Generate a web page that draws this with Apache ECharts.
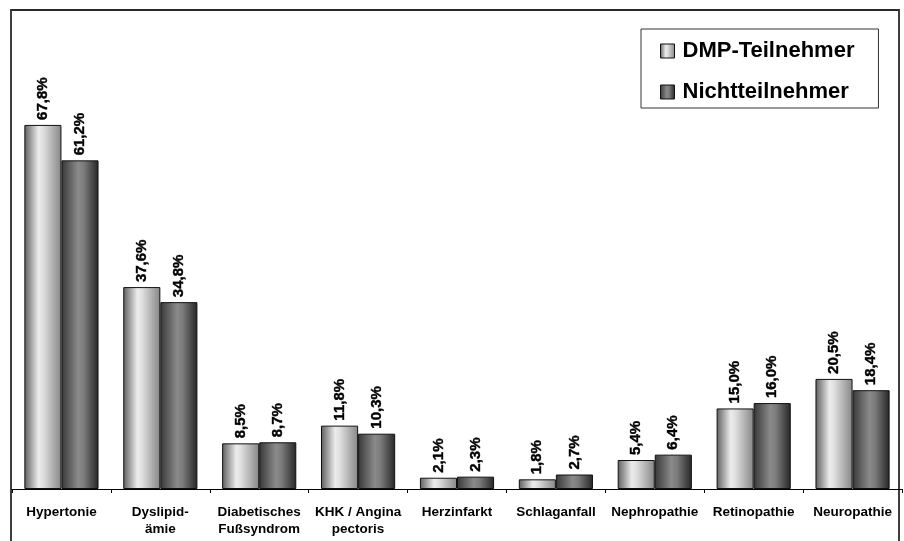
<!DOCTYPE html>
<html>
<head>
<meta charset="utf-8">
<script src="https://cdn.jsdelivr.net/npm/echarts@6/dist/echarts.min.js"></script>
<style>
html,body{margin:0;padding:0;background:#fff;}
#chart{width:904px;height:541px;}
</style>
</head>
<body>
<div id="chart"></div>
<script>
const categories = ["Hypertonie", "Dyslipid-\nämie", "Diabetisches\nFußsyndrom", "KHK / Angina\npectoris", "Herzinfarkt", "Schlaganfall", "Nephropathie", "Retinopathie", "Neuropathie"];
const seriesNames = ["DMP-Teilnehmer", "Nichtteilnehmer"];
const dmpValues = [67.8, 37.6, 8.5, 11.8, 2.1, 1.8, 5.4, 15.0, 20.5];
const nichtValues = [61.2, 34.8, 8.7, 10.3, 2.3, 2.7, 6.4, 16.0, 18.4];

const FONT = '"Liberation Sans", Arial, sans-serif';

const chart = echarts.init(document.getElementById('chart'), null, {renderer: 'canvas'});

const lightGrad = new echarts.graphic.LinearGradient(0, 0, 1, 0, [
  {offset: 0, color: '#5e5e5e'},
  {offset: 0.38, color: '#ececec'},
  {offset: 0.5, color: '#e0e0e0'},
  {offset: 1, color: '#868686'}
]);
const darkGrad = new echarts.graphic.LinearGradient(0, 0, 1, 0, [
  {offset: 0, color: '#383838'},
  {offset: 0.45, color: '#8a8a8a'},
  {offset: 0.6, color: '#7c7c7c'},
  {offset: 1, color: '#262626'}
]);

const fmt = p => p.value.toFixed(1).replace('.', ',') + '%';

const labelCfg = {
  show: true,
  position: 'top',
  rotate: 90,
  align: 'left',
  verticalAlign: 'middle',
  distance: 5,
  formatter: fmt,
  fontFamily: FONT,
  fontWeight: 'bold',
  fontSize: 15,
  color: '#000',
  textBorderColor: '#000',
  textBorderWidth: 0.4
};

chart.setOption({
  animation: false,
  backgroundColor: '#ffffff',
  graphic: [{
    type: 'rect',
    shape: {x: 11, y: 10, width: 888, height: 600},
    style: {fill: 'none', stroke: '#2a2a2a', lineWidth: 1.8},
    z: 0
  }],
  legend: {
    left: 641,
    top: 29,
    orient: 'vertical',
    backgroundColor: '#ffffff',
    borderColor: '#333333',
    borderWidth: 1,
    padding: [11, 24, 5, 19],
    itemGap: 19,
    itemWidth: 14,
    itemHeight: 14,
    icon: 'rect',
    textStyle: {fontFamily: FONT, fontWeight: 'bold', fontSize: 22, color: '#000', padding: [0, 0, 0, 3]},
    data: [
      {name: seriesNames[0], itemStyle: {color: lightGrad, borderColor: '#111', borderWidth: 1}},
      {name: seriesNames[1], itemStyle: {color: darkGrad, borderColor: '#111', borderWidth: 1}}
    ]
  },
  grid: {left: 12, right: 2, top: 10, bottom: 52, containLabel: false},
  xAxis: {
    type: 'category',
    data: categories,
    axisLine: {show: true, lineStyle: {color: '#000', width: 1}},
    axisTick: {show: true, length: 4, lineStyle: {color: '#000'}},
    axisLabel: {
      interval: 0,
      margin: 15,
      fontFamily: FONT,
      fontWeight: 'bold',
      fontSize: 13.5,
      lineHeight: 17,
      color: '#000'
    }
  },
  yAxis: {
    type: 'value',
    min: 0,
    max: 89.2,
    show: false,
    splitLine: {show: false}
  },
  series: [
    {
      name: seriesNames[0],
      type: 'bar',
      data: dmpValues,
      barGap: '0%',
      barCategoryGap: '25%',
      itemStyle: {color: lightGrad, borderColor: '#111', borderWidth: 1},
      label: labelCfg
    },
    {
      name: seriesNames[1],
      type: 'bar',
      data: nichtValues,
      barGap: '0%',
      barCategoryGap: '25%',
      itemStyle: {color: darkGrad, borderColor: '#111', borderWidth: 1},
      label: labelCfg
    }
  ]
});
</script>
</body>
</html>
